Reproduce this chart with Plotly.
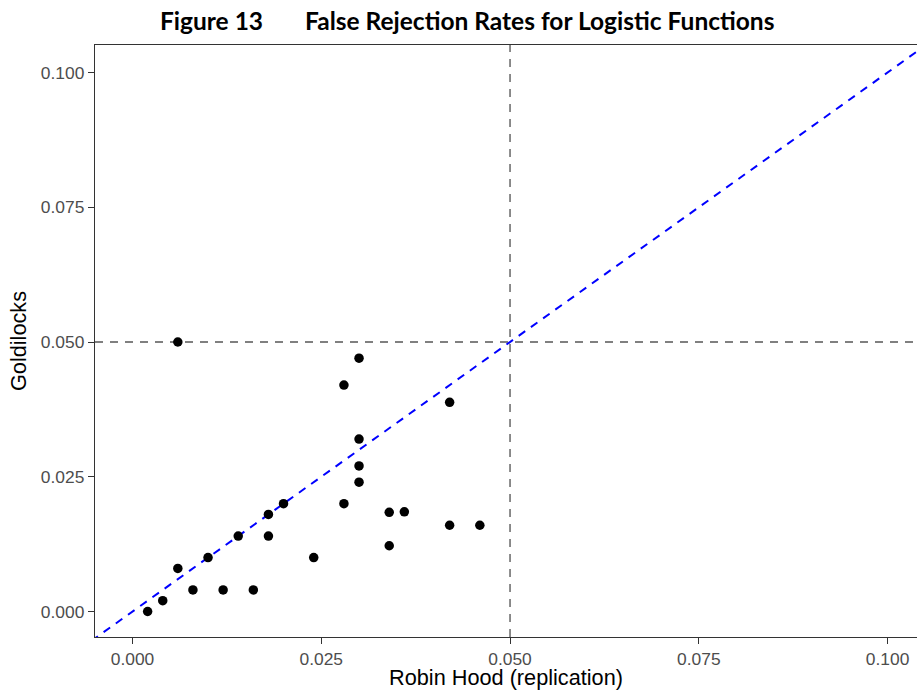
import plotly.graph_objects as go

# False rejection rates: Robin Hood (replication) vs Goldilocks
robin_hood = [0.006, 0.030, 0.028, 0.042, 0.030, 0.030, 0.030, 0.028, 0.034,
              0.036, 0.042, 0.046, 0.034, 0.024, 0.020, 0.018, 0.018, 0.014,
              0.010, 0.006, 0.008, 0.012, 0.016, 0.004, 0.002]
goldilocks = [0.050, 0.047, 0.042, 0.0388, 0.032, 0.027, 0.024, 0.020, 0.0184,
              0.0185, 0.016, 0.016, 0.0122, 0.010, 0.020, 0.018, 0.014, 0.014,
              0.010, 0.008, 0.004, 0.004, 0.004, 0.002, 0.000]

nominal_level = 0.05
tick_vals = [0.000, 0.025, 0.050, 0.075, 0.100]
tick_text = ["0.000", "0.025", "0.050", "0.075", "0.100"]

x_range = [-0.00497, 0.1039]
y_range = [-0.00473, 0.1051]

fig = go.Figure()

# 45-degree reference line
fig.add_trace(go.Scatter(
    x=[-0.02, 0.12], y=[-0.02, 0.12], mode="lines",
    line=dict(color="#0000FF", width=2, dash="8px,7px"),
    hoverinfo="skip", showlegend=False,
))

fig.add_trace(go.Scatter(
    x=robin_hood, y=goldilocks, mode="markers",
    marker=dict(color="black", size=9.5),
    showlegend=False,
))

# nominal 5% level guides
fig.add_shape(type="line", xref="x", yref="paper", x0=nominal_level, x1=nominal_level,
              y0=0, y1=1, line=dict(color="#808080", width=1.8, dash="8px,7px"), layer="below")
fig.add_shape(type="line", xref="paper", yref="y", x0=0, x1=1,
              y0=nominal_level, y1=nominal_level,
              line=dict(color="#808080", width=1.8, dash="8px,7px"), layer="below")

title_font = dict(family="Lato", size=24.5, color="black", weight="bold")
fig.add_annotation(text="Figure 13", xref="paper", yref="paper", x=0.0771, y=1.0422,
                   xanchor="left", yanchor="middle", showarrow=False, font=title_font)
fig.add_annotation(text="False Rejection Rates for Logistic Functions", xref="paper",
                   yref="paper", x=0.2533, y=1.0422, xanchor="left", yanchor="middle",
                   showarrow=False, font=title_font)

axis_common = dict(
    showgrid=False, zeroline=False,
    showline=True, linecolor="#333333", linewidth=1.3,
    ticks="outside", ticklen=6, tickwidth=1.1, tickcolor="#333333",
    tickfont=dict(family="Liberation Sans", size=17.4, color="#4D4D4D"),
    tickvals=tick_vals, ticktext=tick_text,
)

fig.update_xaxes(range=x_range, mirror=True,
                 title=dict(text="Robin Hood (replication)", standoff=5,
                            font=dict(family="Liberation Sans", size=21.7, color="black")),
                 **axis_common)
fig.update_yaxes(range=y_range, mirror=False,
                 title=dict(text="Goldilocks", standoff=8,
                            font=dict(family="Liberation Sans", size=21.7, color="black")),
                 **axis_common)

fig.update_layout(
    width=917, height=690,
    margin=dict(l=95, r=0, t=45, b=53),
    plot_bgcolor="white", paper_bgcolor="white",
)

fig.write_html("out.html")
